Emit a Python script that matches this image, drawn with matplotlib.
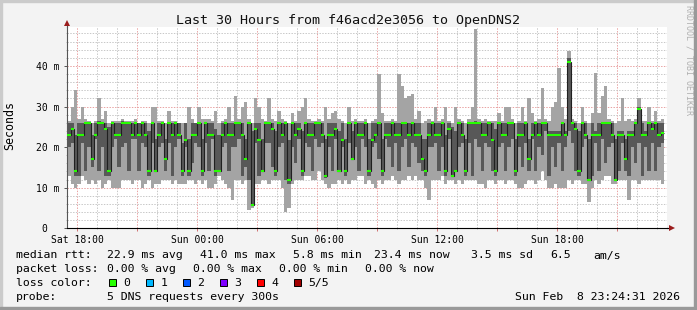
import numpy as np
import matplotlib
matplotlib.use("Agg")
import matplotlib.pyplot as plt
from matplotlib.patches import Rectangle

plt.rcParams["font.family"] = "DejaVu Sans Mono"

W, H = 697, 310

# SmokePing RTT, 5 DNS requests per step, sorted ping1 <= ... <= ping5 (ms)
# steps of 10 minutes starting Sat 17:30, x in hours counted from Sat 00:00
START_HOUR = 17.5
STEP_HOURS = 10 / 60

ping1 = [13, 11, 10, 11, 13, 12, 11, 12, 11, 12, 10, 11, 12, 10, 10, 10, 12, 12, 12, 11,
         12, 12, 10, 11, 12, 10, 11, 11, 12, 12,
         12, 11, 12, 11, 11, 11, 12, 12, 11, 12, 11, 12, 10, 10, 11, 13, 12, 11, 10, 7,
         12, 12, 11, 12, 4.5, 5, 11, 11, 12, 12,
         11, 12, 12, 12, 10, 4, 5, 11, 12, 12, 12, 13, 13, 12, 12, 14, 12, 11, 10, 11,
         11, 12, 11, 12, 11, 12, 12, 13, 13, 11,
         12, 11, 10, 12, 11, 12, 12, 13, 12, 11, 12, 12, 13, 12, 13, 12, 12, 10, 7, 12,
         12, 12, 13, 11, 12, 12, 11, 12, 11, 12,
         12, 12, 12, 11, 11, 10, 12, 12, 11, 12, 12, 11, 12, 12, 11, 10, 10, 11, 12, 12,
         11, 12, 14, 12, 10, 10, 11, 10, 10, 10,
         12, 11, 12, 12, 11, 11, 6.5, 10, 12, 11, 12, 13, 13, 11, 11, 12, 12, 12, 7, 12,
         12, 11, 12, 12, 12, 12, 12, 12, 11]
ping2 = [20, 21, 13, 13, 21, 14, 20, 15, 22, 14, 20, 13, 13, 20, 22, 15, 20, 21, 14, 22,
         22, 14, 21, 20, 13, 21, 14, 20, 21, 14,
         21, 13, 20, 22, 13, 20, 13, 16, 21, 20, 13, 21, 14, 22, 13, 14, 20, 21, 14, 20,
         20, 22, 13, 15, 12, 5.5, 21, 13, 14, 21,
         21, 15, 13, 20, 21, 12, 11, 20, 16, 22, 13, 21, 20, 14, 22, 20, 21, 12.5, 20, 14,
         22, 14, 20, 13, 21, 17, 20, 14, 22, 20,
         13, 20, 21, 17, 13, 22, 20, 15, 21, 14, 20, 22, 15, 21, 20, 16, 14, 13, 20, 20,
         21, 14, 20, 13, 22, 13, 14, 20, 21, 13,
         21, 13, 22, 20, 14, 21, 20, 14, 13, 20, 21, 14, 20, 22, 13, 20, 15, 21, 14, 22,
         14, 20, 18, 24, 13, 20, 15, 21, 14, 20,
         24, 21, 14, 13, 20, 22, 12, 13, 21, 14, 22, 16, 20, 21, 12, 14, 21, 14, 13, 20,
         16, 21, 13, 20, 14, 21, 14, 20, 21]
ping3 = [23, 24.4, 14, 23, 23, 26, 26, 17, 23, 26, 26, 24.4, 14, 26, 23, 23, 26, 26, 26, 23,
         26, 23, 26, 23, 14, 26, 14, 23, 26, 17,
         26, 23, 26, 23, 14, 21.8, 14, 23, 23, 26, 14, 26, 23, 23, 14, 14, 23, 26, 23, 23,
         26, 26, 23, 17, 26, 5.8, 24.4, 21.8, 14, 26,
         26, 24.4, 14, 26, 23, 26, 12, 26, 23, 24.4, 14, 26, 23, 23, 26, 26, 23, 13, 23, 23,
         24.4, 14, 21.8, 14, 26, 17, 26, 23, 23, 26,
         14, 21.8, 23, 26, 14, 23, 23, 26, 23, 23, 26, 26, 23, 26, 23, 23, 17, 14, 23, 26,
         23, 23, 26, 14, 24.4, 13, 14, 26, 23, 14,
         26, 26, 26, 26, 23, 23, 26, 21.8, 14, 26, 23, 23, 26, 26, 14, 23, 23, 26, 17, 23,
         26, 23, 26, 26, 23, 23, 23, 23, 26, 23,
         41, 26, 24.4, 14, 26, 23, 12, 23, 23, 23, 26, 26, 26, 23, 12, 23, 23, 17, 23, 23,
         26, 29.5, 23, 23, 26, 24.4, 26, 23, 23.4]
ping4 = [26, 26, 23, 26, 26, 26, 26, 23, 26, 26.5, 26, 26, 25, 26, 26, 26, 26.5, 26, 26, 26,
         26, 26, 26, 26, 24, 26, 22, 26, 26, 22,
         26, 26, 26, 26, 21, 26, 22, 26, 26, 26, 22, 26, 26, 26, 24.5, 23, 26, 26, 26, 26,
         26, 26, 26, 22, 26, 24, 26, 26, 22, 26,
         26, 26, 24, 26, 26, 26, 21.8, 26, 26, 26, 24, 26, 26, 26, 26, 26, 26, 22, 26, 26,
         26, 24, 26, 22, 26, 24, 26, 26, 26, 26,
         22, 26, 26, 26, 22, 26, 26, 26, 26, 26, 26, 26, 26, 26, 26, 26, 22, 22, 26, 26,
         26, 26, 26, 23, 26, 25, 24, 26, 26, 22,
         26, 26, 26.5, 26, 26, 26, 26, 26, 24.4, 26, 26, 26, 26, 26, 22, 26, 26, 26, 22, 26,
         26, 26, 26, 26, 24, 24, 24, 24, 26, 24,
         42, 26, 26, 24, 26, 26, 22, 26, 24, 26, 26, 26, 26, 26, 22, 24, 24, 22, 24, 24,
         26, 30, 26, 24, 26, 26, 26, 26, 26]
ping5 = [26.5, 30, 34, 27, 30, 27, 26.5, 26, 26.5, 32, 27, 29, 26, 26.5, 26.5, 26.5, 27, 26.5, 26.5, 26.5,
         27, 26, 26.5, 26.5, 26, 30, 30, 26.5, 26.5, 26,
         29, 26.5, 26.5, 26, 26, 26, 30, 27, 26, 30, 27, 27, 27, 26.5, 29, 26, 26.5, 27, 30, 26.5,
         32.5, 27, 30, 31, 27, 26, 32, 30, 27, 26.5,
         32, 27, 26.5, 29, 27, 26.5, 26, 28.5, 26.5, 29, 30, 32, 27, 26.5, 26.5, 27, 26.5, 30, 27, 28.5,
         29, 27, 26.5, 26, 30, 26.5, 27, 26.5, 26.5, 27,
         26, 26.5, 27, 38, 28.5, 26.5, 26.5, 27, 26.5, 38, 35, 32, 32.5, 33, 27, 29, 26, 26.5, 27, 26.5,
         30, 26.5, 27, 30, 26.5, 26, 30, 27, 26.5, 26,
         27, 30, 49, 27, 26.5, 27, 26.5, 26.5, 26.5, 28.5, 26.5, 30, 30, 27, 26, 26.5, 30, 26.5, 32, 28.5,
         26.5, 27, 34.5, 27, 26.5, 30, 31, 39.5, 30, 27,
         43.8, 27, 26.5, 26, 30, 26.5, 26, 28.5, 38.3, 28.5, 32.5, 35, 27, 26.5, 26, 26.5, 32, 26.5, 27, 26.5,
         27, 32, 26.5, 26.5, 30, 26.5, 29, 26.5, 27]

xtick_hours = [18, 24, 30, 36, 42]
xtick_labels = ["Sat 18:00", "Sun 00:00", "Sun 06:00", "Sun 12:00", "Sun 18:00"]
ytick_values = [0, 10, 20, 30, 40]
ytick_labels = ["0  ", "10 m", "20 m", "30 m", "40 m"]

loss_labels = ["0", "1", "2", "3", "4", "5/5"]
loss_colors = ["#26ff00", "#00b8ff", "#0059ff", "#7e00ff", "#ff0000", "#a10000"]

stats_rtt = ["median rtt:", "22.9 ms avg", "41.0 ms max", "5.8 ms min",
             "23.4 ms now", "3.5 ms sd", "6.5", "am/s"]
stats_loss = ["packet loss:", "0.00 % avg", "0.00 % max", "0.00 % min", "0.00 % now"]


def fx(x):
    return x / W


def fy(y):
    return 1 - y / H


fig = plt.figure(figsize=(W / 100, H / 100), dpi=100)
fig.patch.set_facecolor("#f3f3f3")

# 3d-ish frame like rrdtool
fig.patches.append(Rectangle((0, fy(2)), 1, 2 / H, transform=fig.transFigure, color="#cbcbcb"))
fig.patches.append(Rectangle((0, 0), 2 / W, 1, transform=fig.transFigure, color="#cbcbcb"))
fig.patches.append(Rectangle((0, 0), 1, 3 / H, transform=fig.transFigure, color="#999999"))
fig.patches.append(Rectangle((1 - 3 / W, 0), 3 / W, 1, transform=fig.transFigure, color="#999999"))

ax = fig.add_axes([fx(67), fy(228.3), 600 / W, 201.3 / H])
ax.set_facecolor("white")

edges = START_HOUR + STEP_HOURS * np.arange(len(ping3) + 1)

# smoke: outer pair lighter, inner pair darker
ax.stairs(ping5, edges, baseline=ping1, fill=True, color="#a4a4a4", lw=0, zorder=2)
ax.stairs(ping4, edges, baseline=ping2, fill=True, color="#585858", lw=0, zorder=3)
ax.stairs(ping3, edges, baseline=None, color="#202020", lw=0.8, zorder=4)
ax.hlines(ping3, edges[:-1], edges[1:], colors=loss_colors[0], lw=1.5, zorder=5)

ax.set_xlim(17.483, 47.483)
ax.set_ylim(0, 49.6)

ax.set_xticks(np.arange(18, 48, 3))
ax.set_xticklabels([xtick_labels[xtick_hours.index(h)] if h in xtick_hours else ""
                    for h in range(18, 48, 3)])
ax.set_xticks(np.arange(18, 48, 1), minor=True)
ax.set_yticks(ytick_values)
ax.set_yticklabels(ytick_labels)
ax.set_yticks(np.arange(0, 50, 2), minor=True)

ax.set_axisbelow(True)
dots = (0, (1.4, 1.4))
ax.grid(which="minor", color="#c8c8c8", ls=dots, lw=0.72)
ax.grid(which="major", color="#e9a3a3", ls=dots, lw=0.72)

ax.tick_params(which="major", length=2, width=0.7, labelsize=7)
ax.tick_params(which="minor", length=1, width=0.6, color="#aaaaaa")
ax.tick_params(axis="x", which="major", color="#d07070", pad=3)
ax.tick_params(axis="y", which="major", color="#555555", pad=3.6)

for s in ["top", "right"]:
    ax.spines[s].set_visible(False)
ax.spines["left"].set_color("#555555")
ax.spines["left"].set_linewidth(0.8)
ax.spines["bottom"].set_color("black")
ax.spines["bottom"].set_linewidth(0.8)

# axis arrows
ax.plot([0, 0], [1, 1.02], color="#555555", lw=0.8, transform=ax.transAxes, clip_on=False)
ax.plot([1, 1.004], [0, 0], color="black", lw=0.8, transform=ax.transAxes, clip_on=False)
ax.plot([0], [1 + 4 / 201.3], marker="^", ms=4.2, color="#9b1c1c", mew=0,
        transform=ax.transAxes, clip_on=False)
ax.plot([1 + 5 / 600], [0], marker=">", ms=4.2, color="#9b1c1c", mew=0,
        transform=ax.transAxes, clip_on=False)

fig.text(fx(348), fy(24), "Last 30 Hours from f46acd2e3056 to OpenDNS2",
         ha="center", va="baseline", fontsize=9.6, color="#111111")
fig.text(fx(10), fy(126), "Seconds", rotation=90, ha="center", va="center", fontsize=8.4)
fig.text(fx(688.5), fy(5), "RRDTOOL / TOBI OETIKER", rotation=270, ha="center", va="top",
         fontsize=6.0, color="#b0b0b0")

fs = 8.25
rtt_x = [16, 107.3, 200, 293.3, 374, 471, 550, 593.3]
for txt, x in zip(stats_rtt, rtt_x):
    fig.text(fx(x), fy(258.5), txt, va="baseline", fontsize=fs)
loss_x = [16, 107.3, 193.3, 279.3, 365]
for txt, x in zip(stats_loss, loss_x):
    fig.text(fx(x), fy(272.2), txt, va="baseline", fontsize=fs)

fig.text(fx(16), fy(285.9), "loss color:", va="baseline", fontsize=fs)
for i, (lab, col) in enumerate(zip(loss_labels, loss_colors)):
    x0 = 108.5 + 37 * i
    fig.patches.append(Rectangle((fx(x0), fy(286)), 7.2 / W, 7.4 / H,
                                 transform=fig.transFigure, facecolor=col,
                                 edgecolor="black", lw=0.7))
    fig.text(fx(x0 + 15), fy(285.9), lab, va="baseline", fontsize=fs)

fig.text(fx(16), fy(299.6), "probe:", va="baseline", fontsize=fs)
fig.text(fx(107.3), fy(299.6), "5 DNS requests every 300s", va="baseline", fontsize=fs)
fig.text(fx(680), fy(299.6), "Sun Feb  8 23:24:31 2026", ha="right", va="baseline", fontsize=fs)

fig.savefig("out.png", dpi=100, facecolor=fig.get_facecolor())
